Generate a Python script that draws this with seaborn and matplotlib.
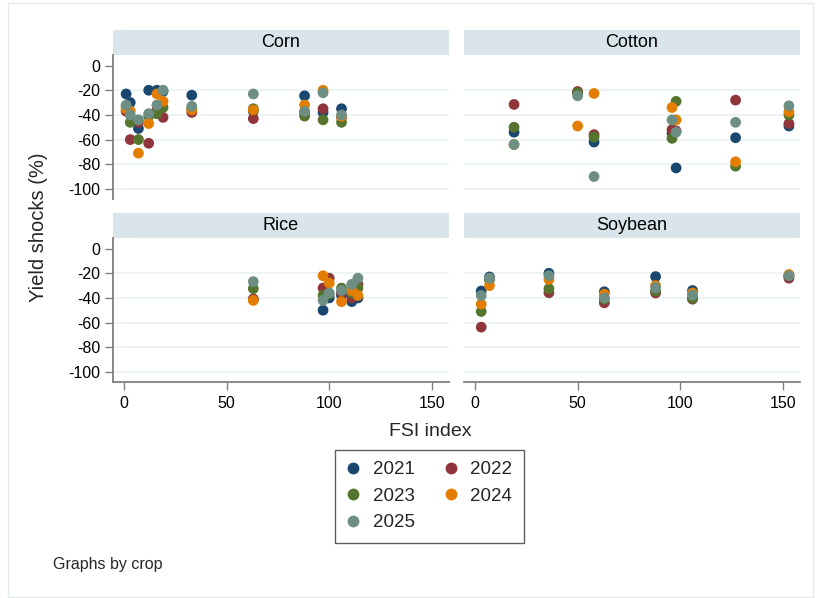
import numpy as np
import pandas as pd
import matplotlib
matplotlib.use("Agg")
import matplotlib.pyplot as plt
import seaborn as sns
from matplotlib.patches import Rectangle

# ---------------- data ----------------
years = ["2021", "2022", "2023", "2024", "2025"]
crops = ["Corn", "Cotton", "Rice", "Soybean"]

corn_fsi = [1, 3, 7, 12, 16, 19, 33, 63, 88, 97, 106]
corn_2021 = [-23, -30, -51, -20, -20, -21, -24, -37, -24.5, -38, -35]
corn_2022 = [-37, -60, -46, -63, -36, -42, -38, -43, -38, -35, -42]
corn_2023 = [-33, -46, -60, -41, -39, -34, -35, -35, -41, -44, -46]
corn_2024 = [-35, -37, -71, -47, -23, -29, -36, -36, -32, -20, -41]
corn_2025 = [-32, -40, -44, -39, -32, -20, -33, -23, -37, -22, -40]

cotton_fsi = [19, 50, 58, 96, 98, 127, 153]
cotton_2021 = [-54, -22, -62, -55, -83, -58.5, -49]
cotton_2022 = [-31.5, -21, -56, -52, -53, -28, -47]
cotton_2023 = [-50, -22, -58, -59, -29, -81.6, -40]
cotton_2024 = [-64, -49, -22.6, -34, -44, -78, -37.5]
cotton_2025 = [-64, -24.5, -90, -44, -54, -46, -32.6]

rice_fsi = [63, 97, 100, 106, 111, 114]
rice_2021 = [-41, -50, -40, -38, -43, -40]
rice_2022 = [-41, -32, -24, -36, -40, -29]
rice_2023 = [-32.5, -38, -37, -32, -36, -32]
rice_2024 = [-42, -22, -28, -43, -34, -38]
rice_2025 = [-26.8, -42, -36, -34, -29, -24]

soy_fsi = [3, 7, 36, 63, 88, 106, 153]
soy_2021 = [-34.4, -23, -20, -35, -22.7, -34, -22]
soy_2022 = [-63.7, -25, -35.8, -44, -36, -41, -24]
soy_2023 = [-51, -25, -32.5, -41, -34.4, -40.4, -22]
soy_2024 = [-45, -30, -25, -37, -30, -36, -21]
soy_2025 = [-38, -24, -22, -40, -31.7, -37.7, -22]

x_ticks = [0, 50, 100, 150]
y_ticks = [0, -20, -40, -60, -80, -100]

colors = ["#1a476f", "#90353b", "#55752f", "#e37e00", "#6e8e84"]

# ---------------- long table ----------------
crop_data = {
    "Corn": (corn_fsi, [corn_2021, corn_2022, corn_2023, corn_2024, corn_2025]),
    "Cotton": (cotton_fsi, [cotton_2021, cotton_2022, cotton_2023, cotton_2024, cotton_2025]),
    "Rice": (rice_fsi, [rice_2021, rice_2022, rice_2023, rice_2024, rice_2025]),
    "Soybean": (soy_fsi, [soy_2021, soy_2022, soy_2023, soy_2024, soy_2025]),
}
rows = []
for crop, (fsi, series) in crop_data.items():
    for yr, vals in zip(years, series):
        for f, v in zip(fsi, vals):
            rows.append({"crop": crop, "year": yr, "fsi": f, "shock": v})
df = pd.DataFrame(rows)

# ---------------- figure ----------------
sns.set_theme(style="white")
plt.rcParams["font.family"] = ["Liberation Sans", "DejaVu Sans"]

W, H = 817, 598
fig = plt.figure(figsize=(W / 100, H / 100), dpi=100)
fig.patch.set_facecolor("white")

# outer light border
fig.add_artist(Rectangle((8 / W, 1 - 597 / H), (W - 12) / W, (594) / H,
                         transform=fig.transFigure, fill=False,
                         edgecolor="#e4ebee", lw=1.0))

col_x = [113, 464]
col_w = 336
row_top = [55, 238]
row_h = 144
strip_h = 25

axis_gray = "#7f7f7f"
grid_c = "#e9f1f3"
strip_c = "#d9e5eb"

axes = []
for i, crop in enumerate(crops):
    r, c = divmod(i, 2)
    left = col_x[c] / W
    bottom = 1 - (row_top[r] + row_h) / H
    ax = fig.add_axes([left, bottom, col_w / W, row_h / H])
    sub = df[df["crop"] == crop]
    sns.scatterplot(data=sub, x="fsi", y="shock", hue="year", hue_order=years,
                    palette=colors, s=60, linewidth=0, alpha=1.0, ax=ax,
                    legend=(i == 0), zorder=3)
    ax.set_xlim(-5.4, 158.4)
    ax.set_ylim(-108.2, 8.6)
    ax.set_facecolor("white")
    for yv in [-20, -40, -60, -80, -100]:
        ax.axhline(yv, color=grid_c, lw=1.2, zorder=1)
    ax.set_xlabel("")
    ax.set_ylabel("")
    for s in ["top", "right", "left", "bottom"]:
        ax.spines[s].set_visible(False)
    if c == 0:
        ax.spines["left"].set_visible(True)
        ax.spines["left"].set_color(axis_gray)
        ax.spines["left"].set_linewidth(1.3)
        ax.set_yticks(y_ticks)
        ax.set_yticklabels([str(v) for v in y_ticks])
        ax.tick_params(axis="y", left=True, length=6, width=1.0, color=axis_gray,
                       labelsize=11.5, pad=3, labelcolor="black")
    else:
        ax.set_yticks([])
    if r == 1:
        ax.spines["bottom"].set_visible(True)
        ax.spines["bottom"].set_color(axis_gray)
        ax.spines["bottom"].set_linewidth(1.3)
        ax.set_xticks(x_ticks)
        ax.set_xticklabels([str(v) for v in x_ticks])
        ax.tick_params(axis="x", bottom=True, length=6, width=1.0, color=axis_gray,
                       labelsize=11.5, pad=4, labelcolor="black")
    else:
        ax.set_xticks([])
    # strip header
    sh = strip_h / row_h
    ax.add_patch(Rectangle((0, 1.0), 1.0, sh, transform=ax.transAxes,
                           facecolor=strip_c, edgecolor="none", clip_on=False))
    ax.text(0.5, 1.0 + sh / 2, crop, transform=ax.transAxes, ha="center",
            va="center", fontsize=13, color="black")
    axes.append(ax)

# legend
handles, labels = axes[0].get_legend_handles_labels()
axes[0].get_legend().remove()
hmap = dict(zip(labels, handles))
order = ["2021", "2023", "2025", "2022", "2024"]
leg = fig.legend([hmap[k] for k in order], order, ncol=2,
                 loc="upper center", bbox_to_anchor=(429 / W, 1 - 450 / H),
                 borderaxespad=0.0,
                 fontsize=13.5, frameon=True, fancybox=False,
                 handlelength=0.8, handletextpad=0.65, columnspacing=1.5,
                 labelspacing=0.5, borderpad=0.6, markerscale=1.1)
leg.get_frame().set_edgecolor("#333333")
leg.get_frame().set_linewidth(1.0)

fig.text(39 / W, 1 - 227 / H, "Yield shocks (%)", rotation=90, ha="center",
         va="center", fontsize=14.5)
fig.text(430 / W, 1 - 432 / H, "FSI index", ha="center", va="center", fontsize=14)
fig.text(53 / W, 1 - 565 / H, "Graphs by crop", ha="left", va="center", fontsize=11.5)

fig.savefig("out.png", dpi=100, facecolor="white")
